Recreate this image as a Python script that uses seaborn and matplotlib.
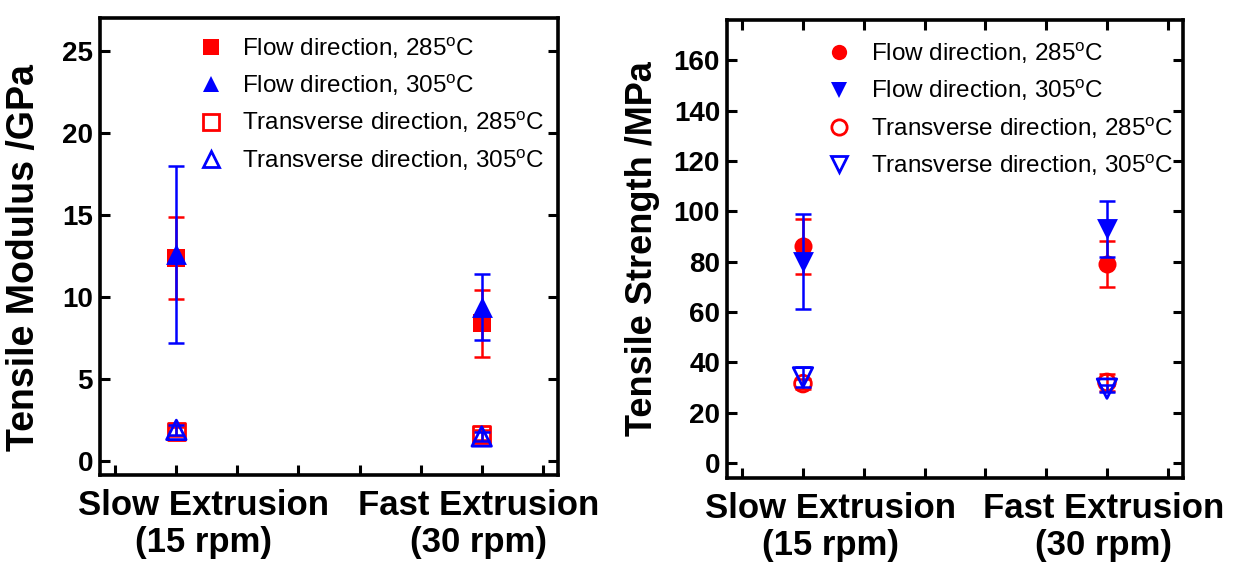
import matplotlib
matplotlib.use("Agg")
import matplotlib.pyplot as plt
from matplotlib.lines import Line2D
import seaborn as sns
import numpy as np

# x positions: 1 = slow extrusion, 2 = fast extrusion
x_pos = [1, 2]
x_labels = ["Slow Extrusion\n(15 rpm)", "Fast Extrusion\n(30 rpm)"]

series_names = [
    "Flow direction, 285$^{\\mathrm{o}}$C",
    "Flow direction, 305$^{\\mathrm{o}}$C",
    "Transverse direction, 285$^{\\mathrm{o}}$C",
    "Transverse direction, 305$^{\\mathrm{o}}$C",
]

# tensile modulus (GPa)
modulus_flow_285 = [12.4, 8.4]
modulus_flow_285_err = [2.5, 2.05]
modulus_flow_305 = [12.6, 9.4]
modulus_flow_305_err = [5.4, 2.0]
modulus_trans_285 = [1.8, 1.6]
modulus_trans_285_err = [0.3, 0.3]
modulus_trans_305 = [1.9, 1.5]
modulus_trans_305_err = [0.3, 0.3]

# tensile strength (MPa)
strength_flow_285 = [86, 79]
strength_flow_285_err = [11, 9]
strength_flow_305 = [80, 93]
strength_flow_305_err = [19, 11]
strength_trans_285 = [31.5, 32]
strength_trans_285_err = [2, 3.3]
strength_trans_305 = [34, 29.5]
strength_trans_305_err = [4, 1.5]

RED = "#FF0000"
BLUE = "#0000FF"

sns.set_style("ticks")
plt.rcParams["font.family"] = ["Liberation Sans", "DejaVu Sans"]
plt.rcParams["mathtext.fontset"] = "custom"
plt.rcParams["mathtext.rm"] = "Liberation Sans"
plt.rcParams["mathtext.it"] = "Liberation Sans:italic"
plt.rcParams["mathtext.bf"] = "Liberation Sans:bold"
plt.rcParams["text.color"] = "black"
plt.rcParams["axes.labelcolor"] = "black"
plt.rcParams["xtick.color"] = "black"
plt.rcParams["ytick.color"] = "black"


def draw_series(ax, y, err, marker, color, size, filled, z):
    ax.errorbar(x_pos, y, yerr=err, fmt="none", ecolor=color, elinewidth=1.8,
                capsize=6, capthick=1.8, zorder=z)
    if filled:
        sns.scatterplot(x=x_pos, y=y, marker=marker, color=color, s=size ** 2,
                        edgecolor=color, linewidth=0, ax=ax, zorder=z + 0.5, legend=False)
    else:
        sns.scatterplot(x=x_pos, y=y, marker=marker, facecolor="none", s=size ** 2,
                        edgecolor=color, linewidth=2, ax=ax, zorder=z + 0.5, legend=False)


def style_axes(ax, ylim, yticks, ylabel, label_xy, top_ticks, label_size):
    ax.set_xlim(0.75, 2.25)
    ax.set_ylim(*ylim)
    ax.set_yticks(yticks)
    ax.set_yticklabels([str(t) for t in yticks], fontsize=20, fontweight="bold")
    # minor ticks carry the marks, major ticks carry the category labels
    ax.set_xticks(np.arange(0.8, 2.21, 0.2), minor=True)
    ax.set_xticks([1.09, 1.99])
    ax.set_xticklabels(x_labels, fontsize=25, fontweight="bold", linespacing=1.15)
    ax.tick_params(axis="x", which="major", length=0, pad=10)
    ax.tick_params(axis="x", which="minor", direction="in", length=7, width=2.2,
                   top=top_ticks, bottom=True)
    ax.tick_params(axis="y", which="major", direction="in", length=7, width=2.2,
                   left=True, right=True, pad=5)
    for sp in ax.spines.values():
        sp.set_visible(True)
        sp.set_linewidth(2.6)
        sp.set_color("black")
    ax.set_ylabel(ylabel, fontsize=label_size, fontweight="bold")
    ax.yaxis.set_label_coords(*label_xy)


def legend_handles(markers):
    hs = []
    cols = [RED, BLUE, RED, BLUE]
    fills = [True, True, False, False]
    for m, c, f in zip(markers, cols, fills):
        hs.append(Line2D([], [], linestyle="none", marker=m, markersize=11,
                         markerfacecolor=c if f else "none", markeredgecolor=c,
                         markeredgewidth=2 if not f else 0))
    return hs


fig = plt.figure(figsize=(12.33, 5.63), dpi=100)
ax1 = fig.add_axes([0.0811, 0.1563, 0.3715, 0.8117])
ax2 = fig.add_axes([0.5896, 0.1510, 0.3698, 0.8135])

# left: tensile modulus
draw_series(ax1, modulus_flow_285, modulus_flow_285_err, "s", RED, 13, True, 3)
draw_series(ax1, modulus_flow_305, modulus_flow_305_err, "^", BLUE, 15, True, 4)
draw_series(ax1, modulus_trans_285, modulus_trans_285_err, "s", RED, 12, False, 5)
draw_series(ax1, modulus_trans_305, modulus_trans_305_err, "^", BLUE, 14, False, 6)
style_axes(ax1, (-0.85, 27.0), [0, 5, 10, 15, 20, 25], "Tensile Modulus /GPa",
           (-0.127, 0.475), False, 27)
ax1.legend(legend_handles(["s", "^", "s", "^"]), series_names, loc="upper left",
           bbox_to_anchor=(0.215, 0.962), frameon=False, fontsize=17.5,
           handlelength=1.0, handletextpad=0.8, labelspacing=0.5,
           borderpad=0, borderaxespad=0)

# right: tensile strength
draw_series(ax2, strength_flow_285, strength_flow_285_err, "o", RED, 13, True, 3)
draw_series(ax2, strength_flow_305, strength_flow_305_err, "v", BLUE, 15, True, 4)
draw_series(ax2, strength_trans_285, strength_trans_285_err, "o", RED, 12, False, 5)
draw_series(ax2, strength_trans_305, strength_trans_305_err, "v", BLUE, 14, False, 6)
style_axes(ax2, (-6, 176), [0, 20, 40, 60, 80, 100, 120, 140, 160],
           "Tensile Strength /MPa", (-0.147, 0.5), True, 26)
ax2.legend(legend_handles(["o", "v", "o", "v"]), series_names, loc="upper left",
           bbox_to_anchor=(0.22, 0.955), frameon=False, fontsize=17.5,
           handlelength=1.0, handletextpad=0.8, labelspacing=0.5,
           borderpad=0, borderaxespad=0)

fig.savefig("out.png", dpi=100)
